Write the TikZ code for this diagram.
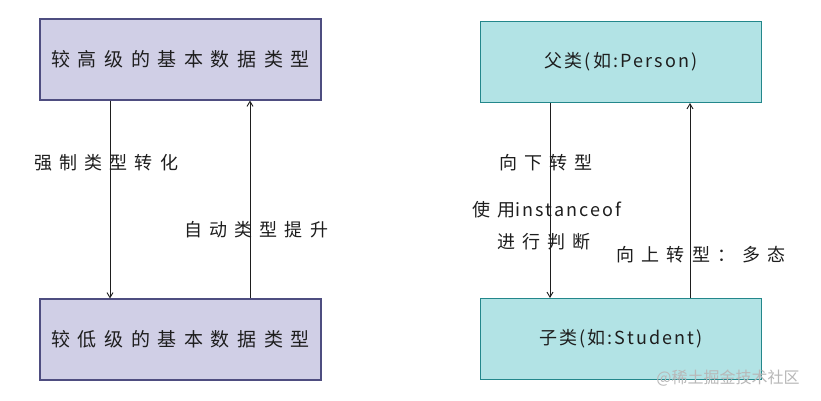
\documentclass[tikz,border=0pt]{standalone}
\usepackage{fontspec}
\usetikzlibrary{arrows.meta,calc}
\newfontfamily\cjk[LetterSpace=40]{Noto Sans CJK SC}
\newfontfamily\cjkm[LetterSpace=12]{Noto Sans CJK SC}
\newfontfamily\cjkw{Noto Sans CJK SC}
\definecolor{lavfill}{HTML}{D0CFE6}
\definecolor{lavline}{HTML}{4E4D80}
\definecolor{tealfill}{HTML}{B2E3E5}
\definecolor{tealline}{HTML}{23878B}
\definecolor{ink}{HTML}{1E1E1E}
\tikzset{
  lavbox/.style={draw=lavline, fill=lavfill, line width=1.1pt, minimum width=281pt, minimum height=81pt, inner sep=0pt, font=\cjk\fontsize{19}{22}\selectfont, text=ink},
  tealbox/.style={draw=tealline, fill=tealfill, line width=1.1pt, minimum width=281pt, minimum height=81pt, inner sep=0pt, font=\cjkm\fontsize{18}{22}\selectfont, text=ink},
  arr/.style={draw=ink, line width=0.9pt, -{Straight Barb[length=5pt,width=6pt]}},
  lbl/.style={font=\cjk\fontsize{18}{22}\selectfont, text=ink, inner sep=0pt, align=center},
  wm/.style={font=\cjkw\fontsize{16}{18}\selectfont, text=black!28, inner sep=0pt}
}
\begin{document}
\begin{tikzpicture}[x=1pt,y=-1pt]
\useasboundingbox[fill=white] (0,0) rectangle (821,401);
\node[lavbox] (hi) at (180.5,59.5) {较高级的基本数据类型};
\node[lavbox] (lo) at (180.5,339.5) {较低级的基本数据类型};
\node[tealbox] (fa) at (621,62) {父类(如:Person)};
\node[tealbox] (ch) at (621,339) {子类(如:Student)};
\draw[arr] ([xshift=-70.5pt]hi.south) -- ([xshift=-70.5pt]lo.north);
\draw[arr] ([xshift=69.5pt]lo.north) -- ([xshift=69.5pt]hi.south);
\draw[arr] ([xshift=-71pt]fa.south) -- ([xshift=-71pt]ch.north);
\draw[arr] ([xshift=69pt]ch.north) -- ([xshift=69pt]fa.south);
\node[lbl] (l1) at (106,163) {强制类型转化};
\node[lbl] (l2) at (256,230) {自动类型提升};
\node[lbl] (l3) at (546,163) {向下转型};
\node[lbl] (l4) at (547,210) {使用{\cjkm\fontsize{18}{22}\selectfont instanceof}};
\node[lbl] (l5) at (544,242) {进行判断};
\node[lbl] (l6) at (701,255) {向上转型：多态};
\node[wm] (w) at (728,378) {@稀土掘金技术社区};
\end{tikzpicture}
\end{document}
